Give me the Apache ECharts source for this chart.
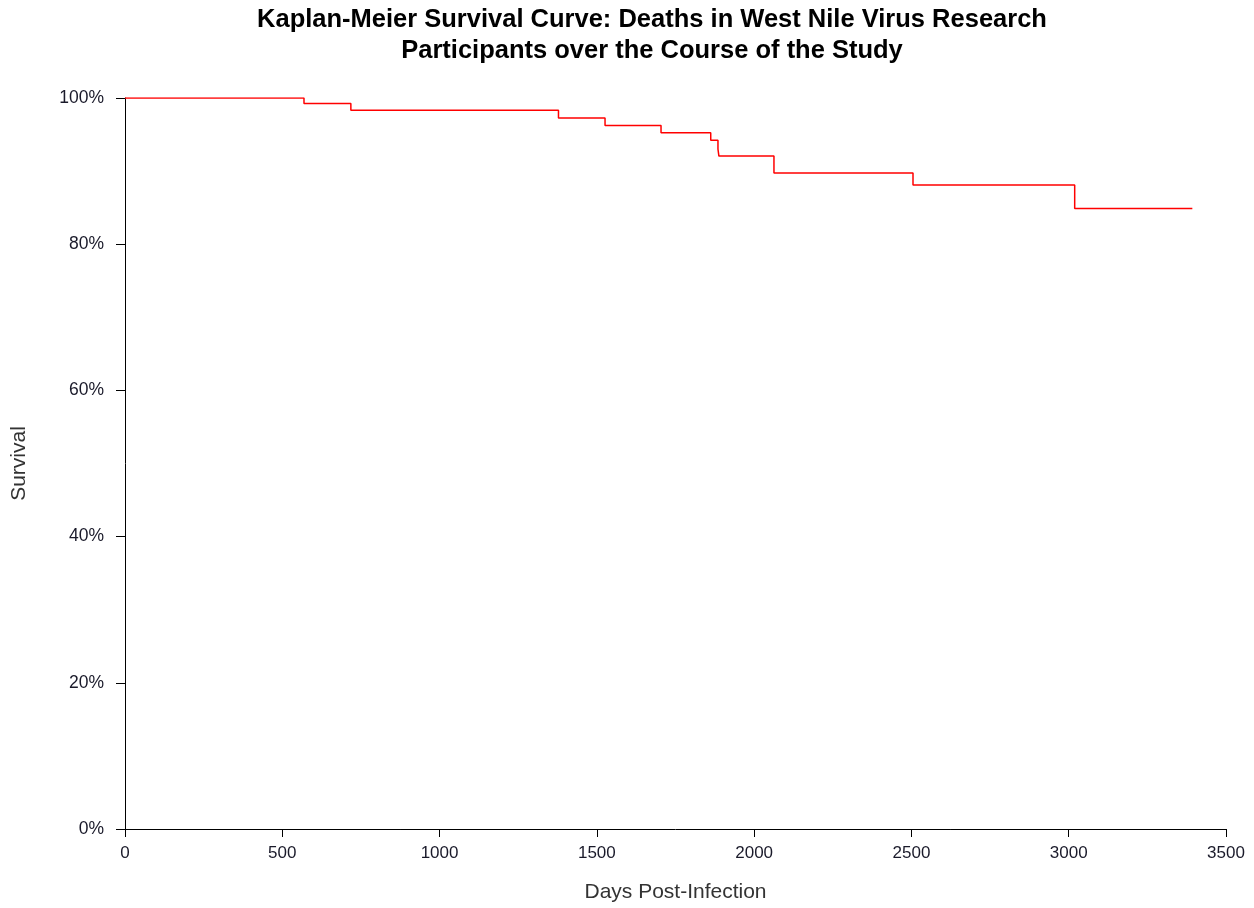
<!DOCTYPE html>
<html>
<head>
<meta charset="utf-8">
<script src="https://cdn.jsdelivr.net/npm/echarts@6/dist/echarts.min.js"></script>
<style>
html,body{margin:0;padding:0;background:#fff;width:100%;height:100%;overflow:hidden;}
#chart{width:100%;height:100%;}
</style>
</head>
<body>
<div id="chart"></div>
<script>
const days = [0, 569, 718, 1378, 1526, 1704, 1862, 1885, 1888, 2063, 2505, 3019, 3393];
const survival = [100, 99.26, 98.31, 97.28, 96.23, 95.23, 94.23, 93.0, 92.05, 89.73, 88.1, 84.9, 84.9];
const xTicks = [0, 500, 1000, 1500, 2000, 2500, 3000, 3500];
const yTicks = [0, 20, 40, 60, 80, 100];

const chart = echarts.init(document.getElementById('chart'));
const font = 'Liberation Sans, Arial, sans-serif';
chart.setOption({
  backgroundColor: '#fff',
  animation: false,
  title: {
    text: 'Kaplan-Meier Survival Curve: Deaths in West Nile Virus Research\nParticipants over the Course of the Study',
    left: 652, top: 4, textAlign: 'center', padding: 0,
    textStyle: {fontFamily: font, fontSize: 25.5, fontWeight: 'bold', color: '#000', lineHeight: 31}
  },
  grid: {left: 125, right: 28, top: 98, bottom: 76, containLabel: false},
  xAxis: {
    type: 'value', min: xTicks[0], max: xTicks[xTicks.length-1], interval: 500,
    name: 'Days Post-Infection', nameLocation: 'middle', nameGap: 53,
    nameTextStyle: {fontFamily: font, fontSize: 21, color: '#333'},
    axisLine: {show: true, onZero: false, lineStyle: {color: '#000', width: 1}},
    axisTick: {show: true, length: 8, lineStyle: {color: '#000'}},
    axisLabel: {fontFamily: font, fontSize: 17, color: '#1a1a2a', margin: 16, formatter: v => String(v)},
    splitLine: {show: false}
  },
  yAxis: {
    type: 'value', min: yTicks[0], max: yTicks[yTicks.length-1], interval: 20,
    name: 'Survival', nameLocation: 'middle', nameGap: 95, nameRotate: 90,
    nameTextStyle: {fontFamily: font, fontSize: 21, color: '#333'},
    axisLine: {show: true, lineStyle: {color: '#000', width: 1}},
    axisTick: {show: true, length: 9, lineStyle: {color: '#000'}},
    axisLabel: {fontFamily: font, fontSize: 17.5, color: '#1a1a2a', margin: 21, formatter: '{value}%'},
    splitLine: {show: false}
  },
  series: [{
    type: 'line', step: 'end', symbol: 'none',
    lineStyle: {color: '#ff0000', width: 1.5},
    data: days.map((d, i) => [d, survival[i]])
  }]
});
</script>
</body>
</html>
